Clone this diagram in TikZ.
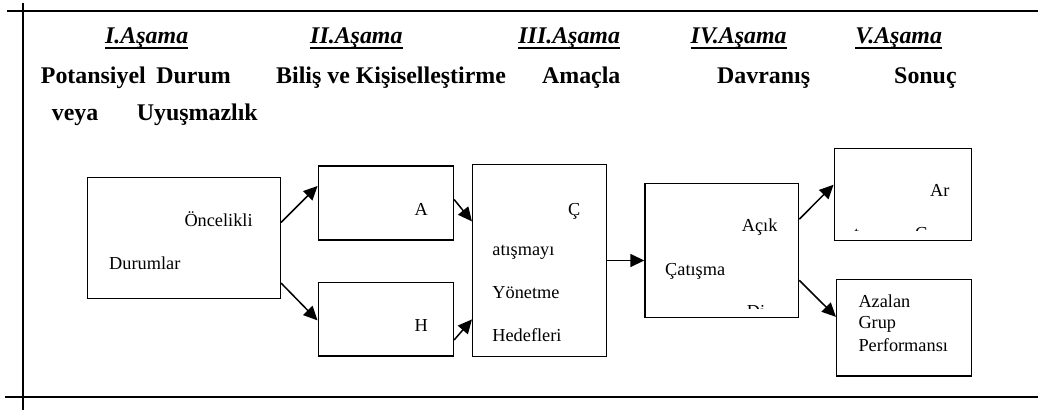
\documentclass[tikz,border=0pt]{standalone}
\usepackage{fontspec}
\setmainfont{Liberation Serif}
\usetikzlibrary{arrows.meta,calc}
\begin{document}
\begin{tikzpicture}[x=1pt,y=-1pt,
  hdr/.style={font=\fontsize{23.9}{28}\selectfont\bfseries\itshape, inner sep=0pt, anchor=base west},
  ttl/.style={font=\fontsize{23.9}{28}\selectfont\bfseries, inner sep=0pt, anchor=base west},
  txt/.style={font=\fontsize{18.3}{21}\selectfont, inner sep=0pt, anchor=base west},
  box/.style={draw, line width=1.5pt, inner sep=0pt},
  arr/.style={line width=1.5pt, -{Triangle[length=14pt,width=13pt]}},
  rulestyle/.style={line width=2pt},
  uline/.style={line width=2pt}]
\useasboundingbox (0,0) rectangle (1038,410);

% frame lines
\draw[rulestyle] (7,11) -- (1038,11);
\draw[rulestyle] (23,3) -- (23,410);
\draw[rulestyle] (5,397) -- (1038,397);

% stage headers
\node[hdr] (h1) at (105,43.3) {I.Aşama};
\node[hdr] (h2) at (310,43.3) {II.Aşama};
\node[hdr] (h3) at (518.2,43.3) {III.Aşama\ };
\node[hdr] (h4) at (690.5,43.3) {IV.Aşama};
\node[hdr] (h5) at (855.2,43.3) {V.Aşama};
\foreach \h in {h1,h2,h3,h4,h5}
  \draw[uline] ([yshift=-4.6pt]\h.base west) -- ([yshift=-4.6pt]\h.base east);

% stage titles
\node[ttl] (t1a) at (40.7,83.3) {Potansiyel};
\node[ttl, anchor=base east] (t1b) at (231,83.3) {Durum};
\node[ttl] (t2) at (276,83.3) {Biliş ve Kişiselleştirme};
\node[ttl] (t3) at (541.9,83.3) {Amaçla};
\node[ttl] (t4) at (716.9,83.3) {Davranış};
\node[ttl] (t5) at (894,83.3) {Sonuç};
\node[ttl] (t1c) at (51.7,120.7) {veya};
\node[ttl] (t1d) at (136.7,120.7) {Uyuşmazlık};

% boxes
\node[box, minimum width=192.6pt, minimum height=121pt] (b1) at (184,237.8) {};
\node[box, minimum width=135pt, minimum height=74pt] (bA) at (385.8,203) {};
\node[box, minimum width=135pt, minimum height=73.7pt] (bH) at (385.8,319.2) {};
\node[box, minimum width=134pt, minimum height=192.4pt] (b3) at (539.7,260.5) {};
\node[box, minimum width=153.5pt, minimum height=134.4pt] (b4) at (721.8,250.5) {};
\node[box, minimum width=137.4pt, minimum height=92.4pt] (b5) at (903,194.5) {};
\node[box, minimum width=135pt, minimum height=96.7pt] (b6) at (904.2,327.7) {};

% box texts
\node[txt] (x1) at (184.3,226) {Öncelikli};
\node[txt] (x2) at (109,269.3) {Durumlar};
\node[txt] (x3) at (414.3,215) {A};
\node[txt] (x4) at (414.3,331) {H};
\node[txt] (x5) at (568,215) {Ç};
\node[txt] (x6) at (492.2,255) {atışmayı};
\node[txt] (x7) at (492.2,298.3) {Yönetme};
\node[txt] (x8) at (492.2,341) {Hedefleri};
\node[txt] (x9) at (741.7,231.7) {Açık};
\node[txt] (x10) at (665,275) {Çatışma};
\begin{scope}
  \clip (650,290) rectangle (795,308.5);
  \node[txt] (x11) at (746.7,317) {Di};
\end{scope}
\node[txt] (x12) at (930,196.7) {Ar};
\begin{scope}
  \clip (840,215) rectangle (968,230.7);
  \node[txt] (x13) at (854,239) {t};
  \node[txt] (x14) at (915,239) {G};
\end{scope}
\node[txt] (x15) at (858.3,307.3) {Azalan};
\node[txt] (x16) at (858.3,328.3) {Grup};
\node[txt] (x17) at (858.3,351) {Performansı};

% connectors
\draw[arr] (b1.9) -- (bA.166);
\draw[arr] (b1.335) -- (bH.181);
\draw[arr] (bA.3) -- (b3.150);
\draw[arr] (bH.343) -- (b3.221);
\draw[arr] (b3.east) -- (b3.east -| b4.west);
\draw[arr] (b4.22) -- (b5.172);
\draw[arr] (b4.339) -- (b6.171);
\end{tikzpicture}
\end{document}
